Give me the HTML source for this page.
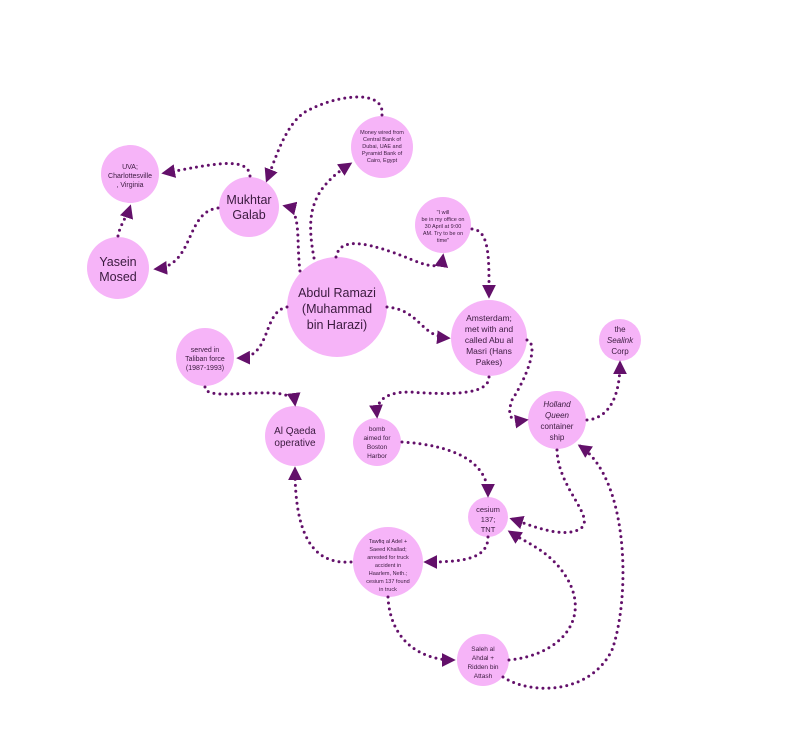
<!DOCTYPE html>
<html><head><meta charset="utf-8"><style>
html,body{margin:0;padding:0;background:#fff;}
svg{display:block;}
text{font-family:"Liberation Sans",sans-serif;fill:#3a1a3e;text-anchor:middle;}
</style></head><body>
<svg width="800" height="732" viewBox="0 0 800 732" xmlns="http://www.w3.org/2000/svg">
<defs>
<marker id="a" viewBox="0 0 10 10" refX="8" refY="5" markerWidth="4.6" markerHeight="4.6" orient="auto" markerUnits="strokeWidth">
<path d="M0,0 L10,5 L0,10 z" fill="#63106a"/>
</marker>
</defs>
<g fill="#f6b4f8">
<circle cx="130" cy="174" r="29"/>
<circle cx="249" cy="207" r="30"/>
<circle cx="118" cy="268" r="31"/>
<circle cx="382" cy="147" r="31"/>
<circle cx="443" cy="225" r="28"/>
<circle cx="337" cy="307" r="50"/>
<circle cx="205" cy="357" r="29"/>
<circle cx="489" cy="338" r="38"/>
<circle cx="620" cy="340" r="21"/>
<circle cx="295" cy="436" r="30"/>
<circle cx="377" cy="442" r="24"/>
<circle cx="557" cy="420" r="29"/>
<circle cx="488" cy="517" r="20"/>
<circle cx="388" cy="562" r="35"/>
<circle cx="483" cy="660" r="26"/>
</g>
<g fill="none" stroke="#63106a" stroke-width="3" stroke-linecap="round" stroke-dasharray="0 6" marker-end="url(#a)">
<path d="M250,176 C248,155 210,165 164,173"/>
<path d="M218,208 C185,212 195,265 156,269"/>
<path d="M118,236 C120,225 127,216 130,207"/>
<path d="M382,115 C385,88 335,95 305,112 C285,125 275,160 267,180"/>
<path d="M300,271 C296,240 302,210 285,206"/>
<path d="M314,258 C306,215 310,190 350,164"/>
<path d="M336,257 C340,238 362,242 392,252 C420,262 440,275 443,256"/>
<path d="M472,229 C490,230 489,260 489,296"/>
<path d="M387,307 C420,310 420,336 448,338"/>
<path d="M287,307 C262,312 272,357 239,358"/>
<path d="M205,387 C205,405 292,380 295,404"/>
<path d="M527,340 C540,345 525,380 512,400 C506,418 512,422 526,420"/>
<path d="M489,377 C489,395 450,395 410,392 C380,392 376,405 377,416"/>
<path d="M587,420 C610,418 620,395 620,363"/>
<path d="M402,442 C450,445 488,460 488,495"/>
<path d="M557,450 C558,490 600,520 578,530 C560,538 530,525 512,519"/>
<path d="M488,537 C488,560 460,562 426,562"/>
<path d="M351,562 C310,565 295,530 295,469"/>
<path d="M388,597 C390,640 420,660 453,660"/>
<path d="M509,660 C560,655 590,620 568,580 C552,552 530,545 510,532"/>
<path d="M503,677 C530,695 590,695 612,650 C630,600 630,480 580,446"/>
</g>
<text x="130" y="169" font-size="7">UVA;</text>
<text x="130" y="178" font-size="7">Charlottesville</text>
<text x="130" y="187" font-size="7">, Virginia</text>
<text x="249" y="204" font-size="12.5">Mukhtar</text>
<text x="249" y="219" font-size="12.5">Galab</text>
<text x="118" y="266" font-size="12.5">Yasein</text>
<text x="118" y="281" font-size="12.5">Mosed</text>
<text x="382" y="134" font-size="5.5">Money wired from</text>
<text x="382" y="141" font-size="5.5">Central Bank of</text>
<text x="382" y="148" font-size="5.5">Dubai, UAE and</text>
<text x="382" y="155" font-size="5.5">Pyramid Bank of</text>
<text x="382" y="162" font-size="5.5">Cairo, Egypt</text>
<text x="443" y="214" font-size="5.5">"I will</text>
<text x="443" y="221" font-size="5.5">be in my office on</text>
<text x="443" y="228" font-size="5.5">30 April at 9:00</text>
<text x="443" y="235" font-size="5.5">AM. Try to be on</text>
<text x="443" y="242" font-size="5.5">time"</text>
<text x="337" y="297" font-size="12.5">Abdul Ramazi</text>
<text x="337" y="313" font-size="12.5">(Muhammad</text>
<text x="337" y="329" font-size="12.5">bin Harazi)</text>
<text x="205" y="352" font-size="7">served in</text>
<text x="205" y="361" font-size="7">Taliban force</text>
<text x="205" y="370" font-size="7">(1987-1993)</text>
<text x="489" y="321" font-size="8.5">Amsterdam;</text>
<text x="489" y="332" font-size="8.5">met with and</text>
<text x="489" y="343" font-size="8.5">called Abu al</text>
<text x="489" y="354" font-size="8.5">Masri (Hans</text>
<text x="489" y="365" font-size="8.5">Pakes)</text>
<text x="620" y="332" font-size="8">the</text>
<text x="620" y="343" font-size="8" font-style="italic">Sealink</text>
<text x="620" y="354" font-size="8">Corp</text>
<text x="295" y="434" font-size="10">Al Qaeda</text>
<text x="295" y="446" font-size="10">operative</text>
<text x="377" y="431" font-size="6.5">bomb</text>
<text x="377" y="440" font-size="6.5">aimed for</text>
<text x="377" y="449" font-size="6.5">Boston</text>
<text x="377" y="458" font-size="6.5">Harbor</text>
<text x="557" y="407" font-size="8" font-style="italic">Holland</text>
<text x="557" y="418" font-size="8" font-style="italic">Queen</text>
<text x="557" y="429" font-size="8">container</text>
<text x="557" y="440" font-size="8">ship</text>
<text x="488" y="512" font-size="7.5">cesium</text>
<text x="488" y="522" font-size="7.5">137;</text>
<text x="488" y="532" font-size="7.5">TNT</text>
<text x="388" y="543" font-size="5.5">Tawfiq al Adel +</text>
<text x="388" y="551" font-size="5.5">Saeed Khallad;</text>
<text x="388" y="559" font-size="5.5">arrested for truck</text>
<text x="388" y="567" font-size="5.5">accident in</text>
<text x="388" y="575" font-size="5.5">Haarlem, Neth.;</text>
<text x="388" y="583" font-size="5.5">cesium 137 found</text>
<text x="388" y="591" font-size="5.5">in truck</text>
<text x="483" y="651" font-size="6.5">Saleh al</text>
<text x="483" y="660" font-size="6.5">Ahdal +</text>
<text x="483" y="669" font-size="6.5">Ridden bin</text>
<text x="483" y="678" font-size="6.5">Attash</text>
</svg>
</body></html>
